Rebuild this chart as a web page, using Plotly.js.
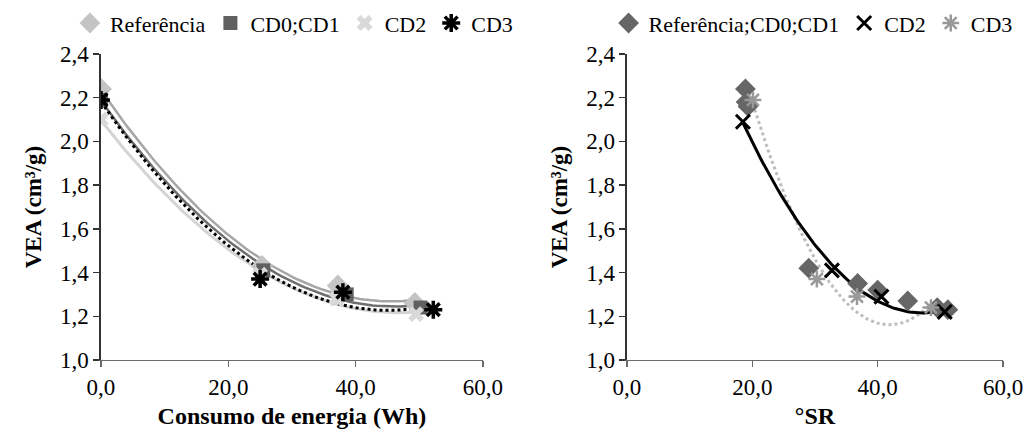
<!DOCTYPE html>
<html>
<head>
<meta charset="utf-8">
<script src="https://cdn.plot.ly/plotly-3.0.1.min.js"></script>
<style>html,body{margin:0;padding:0;background:#fff;}#chart{width:1028px;height:439px;}</style>
</head>
<body>
<div id="chart"></div>
<script>
// ---- Left chart: VEA vs Consumo de energia (Wh)
const refEnergiaX = [0, 25.3, 37.2, 49.3];
const refEnergiaY = [2.24, 1.43, 1.34, 1.26];
const cd01EnergiaX = [0, 25.5, 38.6, 50.2];
const cd01EnergiaY = [2.19, 1.41, 1.30, 1.24];
const cd2EnergiaX = [0, 25.0, 37.0, 49.5];
const cd2EnergiaY = [2.10, 1.39, 1.28, 1.21];
const cd3EnergiaX = [0, 25.0, 38.0, 52.2];
const cd3EnergiaY = [2.19, 1.37, 1.31, 1.23];

// ---- Right chart: VEA vs °SR
const ref01SRX = [18.9, 19.0, 19.3, 29.0, 36.8, 40.0, 44.8, 49.5, 51.2];
const ref01SRY = [2.24, 2.18, 2.16, 1.42, 1.35, 1.32, 1.27, 1.24, 1.23];
const cd2SRX = [18.5, 32.7, 40.6, 50.7];
const cd2SRY = [2.09, 1.41, 1.29, 1.22];
const cd3SRX = [20.1, 30.3, 36.7, 48.5];
const cd3SRY = [2.19, 1.37, 1.29, 1.24];

const xTicks = [0, 20, 40, 60];
const yTicks = [1.0, 1.2, 1.4, 1.6, 1.8, 2.0, 2.2, 2.4];

// quadratic least-squares trendline (like a spreadsheet polynomial trendline)
function quadFit(xs, ys) {
  let S = [0,0,0,0,0], T = [0,0,0];
  for (let i = 0; i < xs.length; i++) {
    let p = 1;
    for (let k = 0; k < 5; k++) { S[k] += p; if (k < 3) T[k] += p * ys[i]; p *= xs[i]; }
  }
  const A = [[S[0],S[1],S[2],T[0]],[S[1],S[2],S[3],T[1]],[S[2],S[3],S[4],T[2]]];
  for (let c = 0; c < 3; c++) {
    let piv = c;
    for (let r = c+1; r < 3; r++) if (Math.abs(A[r][c]) > Math.abs(A[piv][c])) piv = r;
    [A[c], A[piv]] = [A[piv], A[c]];
    for (let r = 0; r < 3; r++) if (r !== c) {
      const f = A[r][c] / A[c][c];
      for (let k = c; k < 4; k++) A[r][k] -= f * A[c][k];
    }
  }
  const a0 = A[0][3]/A[0][0], a1 = A[1][3]/A[1][1], a2 = A[2][3]/A[2][2];
  const lo = Math.min(...xs), hi = Math.max(...xs);
  const tx = [], ty = [];
  for (let i = 0; i <= 80; i++) { const x = lo + (hi-lo)*i/80; tx.push(x); ty.push(a0 + a1*x + a2*x*x); }
  return {x: tx, y: ty};
}

function trend(xs, ys, color, width, dash, xa, ya) {
  const f = quadFit(xs, ys);
  return {x: f.x, y: f.y, type: 'scatter', mode: 'lines', xaxis: xa, yaxis: ya,
    line: {color: color, width: width, dash: dash}, showlegend: false, hoverinfo: 'skip'};
}

const traces = [
  // left trendlines
  trend(cd2EnergiaX, cd2EnergiaY, '#d4d4d4', 3, 'solid', 'x', 'y'),
  trend(refEnergiaX, refEnergiaY, '#a6a6a6', 2.5, 'solid', 'x', 'y'),
  trend(cd01EnergiaX, cd01EnergiaY, '#6e6e6e', 2.5, 'solid', 'x', 'y'),
  trend(cd3EnergiaX, cd3EnergiaY, '#000000', 3, 'dot', 'x', 'y'),
  // left markers
  {x: refEnergiaX, y: refEnergiaY, type:'scatter', mode:'markers', name:'Referência', xaxis:'x', yaxis:'y', legend:'legend',
   marker:{symbol:'diamond', size:17, color:'#c4c4c4'}},
  {x: cd01EnergiaX, y: cd01EnergiaY, type:'scatter', mode:'markers', name:'CD0;CD1', xaxis:'x', yaxis:'y', legend:'legend',
   marker:{symbol:'square', size:14, color:'#606060'}},
  {x: cd2EnergiaX, y: cd2EnergiaY, type:'scatter', mode:'markers', name:'CD2', xaxis:'x', yaxis:'y', legend:'legend',
   marker:{symbol:'x', size:14, color:'#d9d9d9'}},
  {x: cd3EnergiaX, y: cd3EnergiaY, type:'scatter', mode:'markers', name:'CD3', xaxis:'x', yaxis:'y', legend:'legend',
   marker:{symbol:'asterisk-open', size:15, color:'#000000', line:{color:'#000000', width:3.5}}},
  // right trendlines
  trend(cd3SRX, cd3SRY, '#bdbdbd', 3, 'dot', 'x2', 'y2'),
  trend(cd2SRX, cd2SRY, '#000000', 3, 'solid', 'x2', 'y2'),
  // right markers
  {x: ref01SRX, y: ref01SRY, type:'scatter', mode:'markers', name:'Referência;CD0;CD1', xaxis:'x2', yaxis:'y2', legend:'legend2',
   marker:{symbol:'diamond', size:16, color:'#666666'}},
  {x: cd2SRX, y: cd2SRY, type:'scatter', mode:'markers', name:'CD2', xaxis:'x2', yaxis:'y2', legend:'legend2',
   marker:{symbol:'x-thin-open', size:14, color:'#000000', line:{color:'#000000', width:3}}},
  {x: cd3SRX, y: cd3SRY, type:'scatter', mode:'markers', name:'CD3', xaxis:'x2', yaxis:'y2', legend:'legend2',
   marker:{symbol:'asterisk-open', size:14, color:'#999999', line:{color:'#999999', width:2.5}}}
];

const fontFam = 'Liberation Serif';
function xAxis(domain, title, anchor) {
  return {domain: domain, anchor: anchor, range: [0, 60], tickvals: xTicks, tickformat: '.1f',
    showgrid: false, zeroline: false, showline: true, linecolor: '#6b6b6b', linewidth: 1.5,
    ticks: 'outside', ticklen: 6, tickcolor: '#6b6b6b', tickwidth: 1.5,
    tickfont: {family: fontFam, size: 23, color: '#000'},
    title: {text: title, font: {family: fontFam, size: 24, color: '#000', weight: 'bold'}, standoff: 8}};
}
function yAxis(anchor) {
  return {domain: [0.18, 0.877], anchor: anchor, range: [1.0, 2.4], tickvals: yTicks, tickformat: '.1f',
    showgrid: false, zeroline: false, showline: true, linecolor: '#333', linewidth: 1.5,
    ticks: 'outside', ticklen: 6, tickcolor: '#333', tickwidth: 1.5,
    tickfont: {family: fontFam, size: 23, color: '#000'},
    title: {text: 'VEA (cm³/g)', font: {family: fontFam, size: 23, color: '#000', weight: 'bold'}, standoff: 12}};
}

const layout = {
  width: 1028, height: 439,
  margin: {l: 0, r: 0, t: 0, b: 0},
  paper_bgcolor: '#fff', plot_bgcolor: '#fff',
  separators: ',.',
  font: {family: fontFam, size: 22, color: '#000'},
  xaxis: xAxis([0.0982, 0.4698], 'Consumo de energia (Wh)', 'y'),
  yaxis: yAxis('x'),
  xaxis2: xAxis([0.6099, 0.9757], '°SR', 'y2'),
  yaxis2: yAxis('x2'),
  legend: {orientation: 'h', x: 0.068, y: 0.995, xanchor: 'left', yanchor: 'top',
    font: {family: fontFam, size: 22, color: '#000'}, itemwidth: 30,
    bgcolor: 'rgba(0,0,0,0)'},
  legend2: {orientation: 'h', x: 0.592, y: 0.995, xanchor: 'left', yanchor: 'top',
    font: {family: fontFam, size: 22, color: '#000'}, itemwidth: 30,
    bgcolor: 'rgba(0,0,0,0)'},
  showlegend: true
};

Plotly.newPlot('chart', traces, layout, {displayModeBar: false, staticPlot: true});
</script>
</body>
</html>
